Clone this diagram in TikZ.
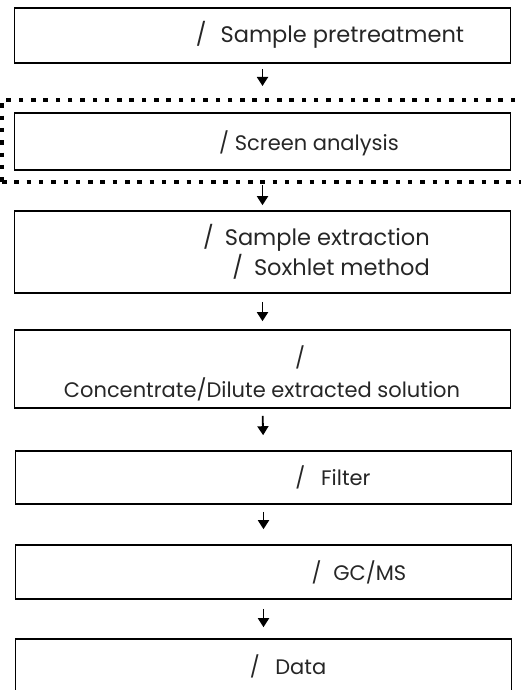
\documentclass[tikz,border=0pt]{standalone}
\usepackage{fontspec}
\setmainfont{Poppins}
\usetikzlibrary{arrows.meta}

\begin{document}
\begin{tikzpicture}[x=1pt,y=-1pt,
    box/.style={draw,line width=1.6pt,minimum width=496pt,inner sep=0pt},
    lbl/.style={font=\fontsize{21}{30}\selectfont,inner sep=0pt,text=black!85},
    big/.style={font=\fontsize{22.5}{30}\selectfont},
    arr/.style={line width=1.8pt,-{Triangle[width=11pt,length=9pt]}},
    frame/.style={draw,line width=4pt,dash pattern=on 4.5pt off 7.8pt,minimum width=560pt,minimum height=82pt,inner sep=0pt}]
    \useasboundingbox (0,0) rectangle (520,690);

    % B1
    \node[box,minimum height=55pt] (b1) at (262.5,35.5) {};
    \node[lbl,big] at (330,35) {/\hspace{8pt} Sample pretreatment};

    % screen frame and B2
    \node[frame] (scr) at (282,141) {};
    \node[box,minimum height=57pt] (b2) at (262.5,141.5) {};
    \node[lbl] at (309,143) {/ Screen analysis};

    % B3
    \node[box,minimum height=82pt] (b3) at (262.5,252) {};
    \node[lbl,big,align=right,anchor=east] at (430,252) {/\hspace{5pt} Sample extraction\\/\hspace{5pt} Soxhlet method};

    % B4
    \node[box,minimum height=78pt] (b4) at (262.5,369) {};
    \node[lbl] at (300,357) {/};
    \node[lbl] at (262,389) {Concentrate/Dilute extracted solution};

    % B5
    \node[box,minimum height=53pt] (b5) at (263.5,477.5) {};
    \node[lbl] at (333,477) {/\hspace{10pt} Filter};

    % B6
    \node[box,minimum height=54pt] (b6) at (263.5,572) {};
    \node[lbl] at (359,572) {/\hspace{6pt} GC/MS};

    % B7
    \node[box,minimum height=56pt] (b7) at (263.5,667) {};
    \node[lbl] at (288,666) {/\hspace{10pt} Data};

    % arrows
    \draw[arr,shorten <=5pt,shorten >=12pt] (b1.south) -- (b1.south |- scr.north);
    \draw[arr,shorten <=1pt,shorten >=5pt] (b1.south |- scr.south) -- (b3.north);
    \draw[arr,shorten <=8pt,shorten >=8pt] (b3.south) -- (b4.north);
    \draw[arr,shorten <=7pt,shorten >=15pt] (b4.south) -- (b5.north);
    \draw[arr,shorten <=7pt,shorten >=15pt] (b5.south) -- (b6.north);
    \draw[arr,shorten <=9pt,shorten >=11pt] (b6.south) -- (b7.north);
\end{tikzpicture}
\end{document}
